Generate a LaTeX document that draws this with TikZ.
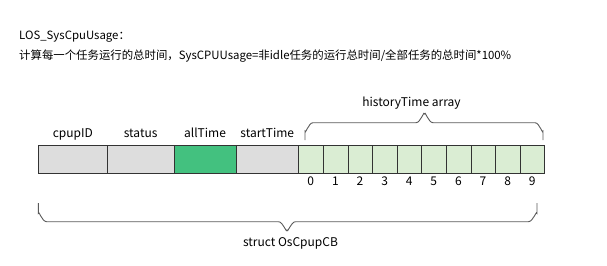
\documentclass[tikz,border=0pt]{standalone}
\usepackage{fontspec}
\setmainfont{Noto Sans CJK SC}
\usetikzlibrary{positioning}
\definecolor{cellgray}{HTML}{DDDDDD}
\definecolor{timegreen}{HTML}{43C17F}
\definecolor{slotgreen}{HTML}{DAEDD3}
\definecolor{edgegray}{HTML}{333333}
\definecolor{bracegray}{HTML}{5A5A5A}
\begin{document}
\begin{tikzpicture}[x=1pt, y=-1pt,
  field/.style={draw=edgegray, fill=cellgray, minimum height=28pt, inner sep=0pt, outer sep=0pt},
  slot/.style={field, fill=slotgreen, minimum width=24.6pt},
  lbl/.style={font=\fontsize{12}{14}\selectfont, inner sep=0pt, anchor=base},
  bracket/.style={draw=bracegray, line width=0.9pt}
]
\useasboundingbox (0,0) rectangle (607,265);
% title
\node[lbl, anchor=base west, font=\fontsize{11.4}{14}\selectfont] (title) at (19,39) {LOS\_SysCpuUsage：};
\node[lbl, anchor=base west, font=\fontsize{11.4}{14}\selectfont] (formula) at (19,59.3) {计算每一个任务运行的总时间，SysCPUUsage=非idle任务的运行总时间/全部任务的总时间*100\%};
% struct fields
\node[field, minimum width=69pt, anchor=west] (cpupID) at (38.3,159) {};
\node[field, minimum width=66.7pt, right=0pt of cpupID] (status) {};
\node[field, minimum width=62pt, fill=timegreen, right=0pt of status] (allTime) {};
\node[field, minimum width=62.5pt, right=0pt of allTime] (startTime) {};
\coordinate (toprow) at (0,137.7);
\foreach \name in {cpupID, status, allTime, startTime}
  \node[lbl] at (\name |- toprow) {\name};
% historyTime array
\node[slot, right=0pt of startTime] (h0) {};
\foreach \i [evaluate=\i as \j using int(\i-1)] in {1,...,9}
  \node[slot, right=0pt of h\j] (h\i) {};
\coordinate (digitrow) at (0,185.7);
\foreach \i in {0,...,9}
  \node[lbl] at (h\i |- digitrow) {\i};
% braces
\draw[bracket] (305,140) -- (305,131) to[out=-90, in=180] (313,122.7) -- (416,122.7)
  to[out=0, in=90] (424.5,114) to[out=90, in=180] (433,122.7) -- (535,122.7)
  to[out=0, in=-90] (543,131) -- (543,140);
\node[lbl] (history) at (411.5,106) {historyTime array};
\draw[bracket] (38.3,203) -- (38.3,213.5) to[out=90, in=180] (46.5,221.7) -- (278.5,221.7)
  to[out=0, in=-90] (287,230) to[out=-90, in=180] (295.5,221.7) -- (528.5,221.7)
  to[out=0, in=90] (537,213.5) -- (537,203);
\node[lbl] (struct) at (290.5,246.7) {struct OsCpupCB};
\end{tikzpicture}
\end{document}
